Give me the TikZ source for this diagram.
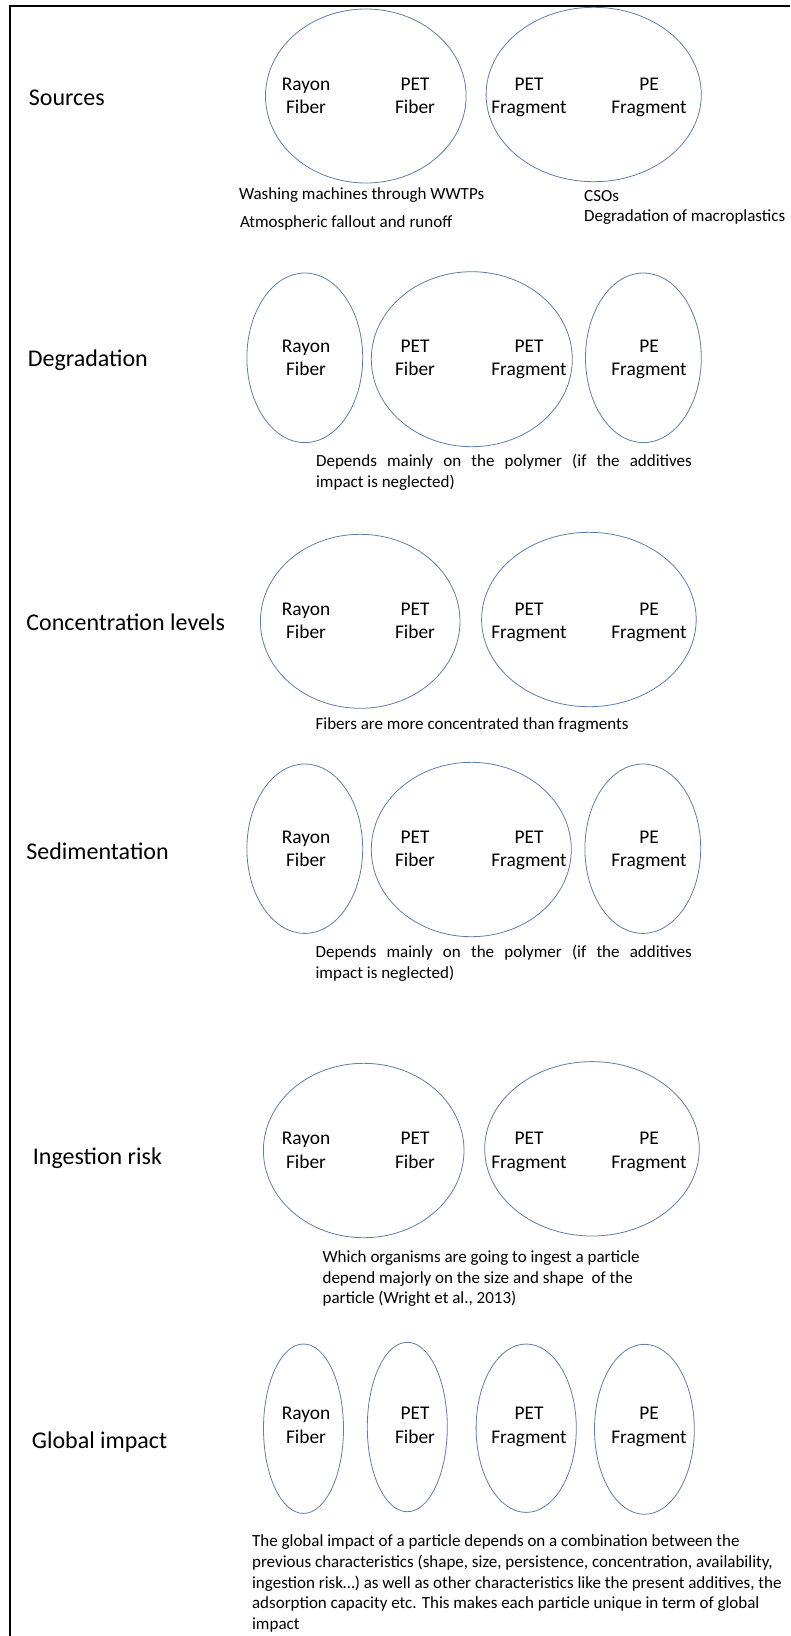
\documentclass[tikz,border=0pt]{standalone}
\usepackage{fontspec}
\setmainfont{Carlito}
\usepackage{tikz}
\usetikzlibrary{shapes.geometric}
\definecolor{ringblue}{RGB}{96,125,163}
\newcommand\twoline[2]{\strut#1\\\strut#2}

\begin{document}
\begin{tikzpicture}[x=1pt,y=-1pt,
    blob/.style={draw=ringblue,line width=0.8pt,ellipse,inner sep=0pt},
    rowlabel/.style={anchor=west,inner sep=0pt,font=\fontsize{24}{29}\selectfont},
    polymer/.style={align=center,inner sep=0pt,font=\fontsize{19.4}{23.3}\selectfont},
    note/.style={anchor=west,align=left,inner sep=0pt,font=\fontsize{17}{20.7}\selectfont}]
  \useasboundingbox (0,0) rectangle (790,1636);
  % frame
  \draw[line width=2pt] (10,1636) -- (10,6) -- (790,6);
  % row titles
  \node[rowlabel] (t-src) at (28.7,98)   {Sources};
  \node[rowlabel] (t-deg) at (27.7,360.7) {Degradation};
  \node[rowlabel] (t-con) at (26.2,622.7) {Concentration levels};
  \node[rowlabel] (t-sed) at (26.2,851)  {Sedimentation};
  \node[rowlabel] (t-ing) at (32.7,1158.3) {Ingestion risk};
  \node[rowlabel] (t-glo) at (31.7,1442.3) {Global impact};
  % groupings
  \foreach \n/\x/\y/\w/\h in {src-a/365.8/96/200.6/174, src-b/593.7/94.5/215.2/174.4,
      deg-a/304.8/357.8/115.8/169.6, deg-b/471.8/359.2/201/175, deg-c/643.4/357.8/115.8/169.6,
      con-a/360.2/621.3/199.6/174, con-b/588.9/619.5/214.6/174.4,
      sed-a/304.8/848.7/115.8/169.4, sed-b/471.3/849.5/200/174.4, sed-c/642.8/848.7/115.8/169.4,
      ing-a/363.7/1150.5/200.6/174.4, ing-b/592/1148.8/214.6/174.4,
      glo-a/303.5/1428.7/80/169.4, glo-b/407.3/1427/80/169.4, glo-c/526.2/1428.2/100.2/168.4, glo-d/644.4/1429.3/99.8/170}{
    \node[blob,minimum width=\w pt,minimum height=\h pt] (\n) at (\x,\y) {};
  }
  % particle names
  \foreach \r/\y in {src/97.5,deg/359.3,con/622.3,sed/850,ing/1151.7,glo/1426.7}{
    \node[polymer] (\r-rf) at (306,\y) {\twoline{Rayon}{Fiber}};
    \node[polymer] (\r-pf) at (415,\y) {\twoline{PET}{Fiber}};
    \node[polymer] (\r-pg) at (529,\y) {\twoline{PET}{Fragment}};
    \node[polymer] (\r-eg) at (649,\y) {\twoline{PE}{Fragment}};
  }
  % comments under each row
  \node[note] (n-wash) at (238.8,195) {Washing machines through WWTPs};
  \node[note] (n-atmo) at (239.8,223) {Atmospheric fallout and runoff};
  \node[note] (n-cso) at (584,207.5) {CSOs\\Degradation of macroplastics};
  \node[note] (n-deg) at (315.9,472.2) {\makebox[375.8pt][s]{Depends mainly on the polymer (if the additives}\\impact is neglected)};
  \node[note] (n-con) at (315.4,725) {Fibers are more concentrated than fragments};
  \node[note] (n-sed) at (315.4,963) {\makebox[376.3pt][s]{Depends mainly on the polymer (if the additives}\\impact is neglected)};
  \node[note] (n-ing) at (322.4,1278.6) {Which organisms are going to ingest a particle\\depend majorly on the size and shape~ of the\\particle (Wright et al., 2013)};
  \node[note] (n-glo) at (251.9,1583.7) {The global impact of a particle depends on a combination between the\\previous characteristics (shape, size, persistence, concentration, availability,\\ingestion risk\dots) as well as other characteristics like the present additives, the\\adsorption capacity etc. This makes each particle unique in term of global\\impact};
\end{tikzpicture}
\end{document}
